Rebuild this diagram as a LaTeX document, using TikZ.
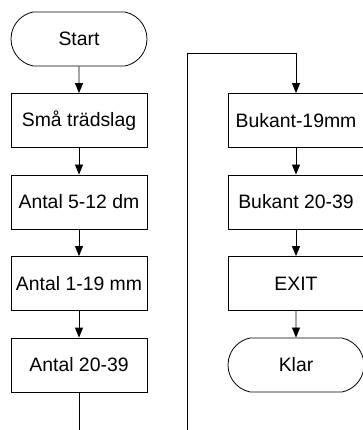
\documentclass[tikz,border=0pt]{standalone}
\usepackage{fontspec}
\setmainfont{Liberation Sans}
\usetikzlibrary{arrows.meta,shapes.misc}
\tikzset{
  box/.style={draw, line width=0.8pt, minimum width=136pt, minimum height=54pt, inner sep=0pt,
    font=\fontsize{19.4}{23}\selectfont},
  term/.style={box, rounded rectangle, rounded rectangle arc length=157},
  flow/.style={line width=0.8pt, -{Triangle[width=8pt,length=10pt]}}
}
\begin{document}
\begin{tikzpicture}[x=1pt, y=1pt]
  \useasboundingbox (0,0) rectangle (363,-430);
  % left column
  \node[term] (start) at (79,-39) {Start};
  \node[box] (a1) at (79,-120.5) {Små trädslag};
  \node[box] (a2) at (79,-202) {Antal 5-12 dm};
  \node[box] (a3) at (79,-283.5) {Antal 1-19 mm};
  \node[box] (a4) at (79,-365) {Antal 20-39};
  \coordinate (out) at (79,-430);
  \draw[flow] (start) -- (a1);
  \draw[flow] (a1) -- (a2);
  \draw[flow] (a2) -- (a3);
  \draw[flow] (a3) -- (a4);
  \draw[line width=0.8pt] (a4) -- (out);
  % right column
  \node[box] (b1) at (296,-120.5) {Bukant-19mm};
  \node[box] (b2) at (296,-202) {Bukant 20-39};
  \node[box] (b3) at (296,-283.5) {EXIT};
  \node[term] (klar) at (296,-365) {Klar};
  \coordinate (in) at (187,-430);
  \coordinate (top) at (296,-53);
  \draw[flow] (in) |- (top) -- (b1);
  \draw[flow] (b1) -- (b2);
  \draw[flow] (b2) -- (b3);
  \draw[flow] (b3) -- (klar);
\end{tikzpicture}
\end{document}
